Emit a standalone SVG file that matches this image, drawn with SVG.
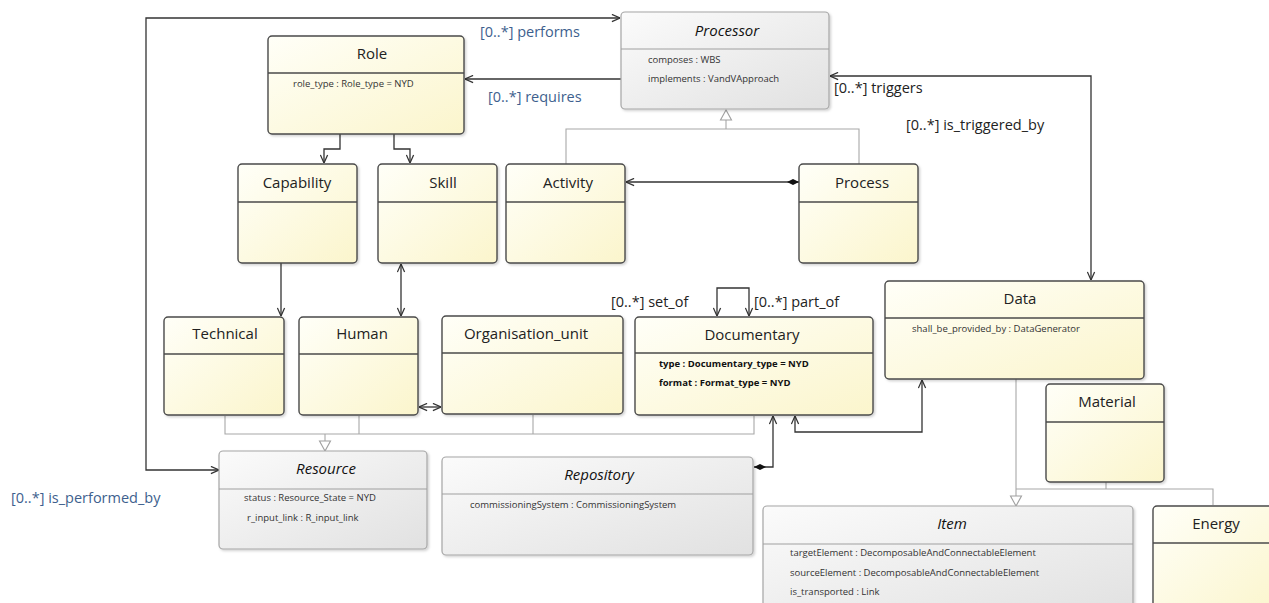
<svg xmlns="http://www.w3.org/2000/svg" width="1269" height="603" viewBox="0 0 1269 603">
<style>
  .yb { fill: url(#yg); stroke: #4a4a4a; stroke-width: 1.4; filter: url(#sh); }
  .gb { fill: url(#gg); stroke: #a6a6a6; stroke-width: 1.2; filter: url(#sh); }
  .ys { stroke: #4a4a4a; stroke-width: 1.3; }
  .gs { stroke: #a0a0a0; stroke-width: 1.1; }
  .t { font-family: "Open Sans", "Noto Sans", sans-serif; font-size: 15px; fill: #222; text-anchor: middle; }
  .ti { font-family: "Open Sans", "Noto Sans", sans-serif; font-size: 15px; fill: #111; text-anchor: middle; font-style: italic; }
  .a { font-family: "Open Sans", "Noto Sans", sans-serif; font-size: 9.5px; fill: #333; }
  .ab { font-family: "Open Sans", "Noto Sans", sans-serif; font-size: 9.5px; fill: #111; font-weight: bold; }
  .lb { font-family: "Open Sans", "Noto Sans", sans-serif; font-size: 14.5px; fill: #3e5f8e; }
  .lk { font-family: "Open Sans", "Noto Sans", sans-serif; font-size: 14.5px; fill: #222; }
  .as { fill: none; stroke: #333; stroke-width: 1.3; }
  .gl { fill: none; stroke: #a8a8a8; stroke-width: 1.1; }
  .tri { fill: #fff; stroke: #a0a0a0; stroke-width: 1.1; }
</style>
<defs>
  <linearGradient id="yg" x1="0" y1="0" x2="1" y2="1">
    <stop offset="0" stop-color="#fffff8"/>
    <stop offset="1" stop-color="#fbf5cc"/>
  </linearGradient>
  <linearGradient id="gg" x1="0" y1="0" x2="1" y2="1">
    <stop offset="0" stop-color="#fbfbfb"/>
    <stop offset="1" stop-color="#e1e1e1"/>
  </linearGradient>
  <filter id="sh" x="-5%" y="-5%" width="115%" height="115%">
    <feDropShadow dx="1.5" dy="1.5" stdDeviation="1" flood-color="#000" flood-opacity="0.18"/>
  </filter>
  <marker id="arr" viewBox="0 0 10 10" refX="10" refY="5" markerWidth="9" markerHeight="9" markerUnits="userSpaceOnUse" orient="auto-start-reverse">
    <path d="M1,1 L10,5 L1,9" fill="none" stroke="#333" stroke-width="1.4"/>
  </marker>
  <marker id="dia" viewBox="0 0 12 6" refX="12" refY="3" markerWidth="12" markerHeight="6" markerUnits="userSpaceOnUse" orient="auto-start-reverse">
    <path d="M0,3 L6,0 L12,3 L6,6 Z" fill="#111"/>
  </marker>
</defs>

<g id="connectors">
  <!-- associations -->
  <path class="as" d="M219,470 L146,470 L146,18 L620,18" marker-start="url(#arr)" marker-end="url(#arr)"/>
  <path class="as" d="M621,79 L465,79" marker-end="url(#arr)"/>
  <path class="as" d="M830,76 L1091,76 L1091,280" marker-start="url(#arr)" marker-end="url(#arr)"/>
  <path class="as" d="M340,134 L340,149 L324,149 L324,163" marker-end="url(#arr)"/>
  <path class="as" d="M394,134 L394,149 L410,149 L410,163" marker-end="url(#arr)"/>
  <path class="as" d="M281,263 L281,316" marker-end="url(#arr)"/>
  <path class="as" d="M401,316 L401,264" marker-start="url(#arr)" marker-end="url(#arr)"/>
  <path class="as" d="M419,407 L441,407" marker-start="url(#arr)" marker-end="url(#arr)"/>
  <path class="as" d="M799,182 L626,182" marker-start="url(#dia)" marker-end="url(#arr)"/>
  <path class="as" d="M717,316 L717,288 L749,288 L749,316" marker-start="url(#arr)" marker-end="url(#arr)"/>
  <path class="as" d="M754,467 L773,467 L773,416" marker-start="url(#dia)" marker-end="url(#arr)"/>
  <path class="as" d="M795,416 L795,432 L922,432 L922,380" marker-start="url(#arr)" marker-end="url(#arr)"/>
  <!-- generalizations -->
  <path class="gl" d="M566,164 L566,129 L859,129 L859,164 M726,129 L726,120"/>
  <polygon class="tri" points="726,110 720.5,120 731.5,120"/>
  <path class="gl" d="M225,416 L225,434 L754,434 L754,416 M359,416 L359,434 M533,415 L533,434 M325,434 L325,441"/>
  <polygon class="tri" points="325,451 319.5,441 330.5,441"/>
  <path class="gl" d="M1016,379 L1016,496 M1106,482 L1106,489 M1016,489 L1213,489 L1213,505"/>
  <polygon class="tri" points="1016,506 1010.5,496 1021.5,496"/>
  <!-- labels -->
  <text class="lb" x="480" y="37">[0..*] performs</text>
  <text class="lb" x="488" y="102">[0..*] requires</text>
  <text class="lb" x="11" y="503">[0..*] is_performed_by</text>
  <text class="lk" x="834" y="93">[0..*] triggers</text>
  <text class="lk" x="906" y="130">[0..*] is_triggered_by</text>
  <text class="lk" x="611" y="307">[0..*] set_of</text>
  <text class="lk" x="754" y="307">[0..*] part_of</text>
</g>

<g id="Role">
  <rect class="yb" x="268" y="36" width="196" height="98" rx="4"/>
  <line class="ys" x1="268" y1="73" x2="464" y2="73"/>
  <text class="t" x="372" y="59">Role</text>
  <text class="a" x="293" y="87">role_type : Role_type = NYD</text>
</g>
<g id="Processor">
  <rect class="gb" x="621" y="12" width="208" height="97" rx="4"/>
  <line class="gs" x1="621" y1="49" x2="829" y2="49"/>
  <text class="ti" x="727" y="36">Processor</text>
  <text class="a" x="648" y="63">composes : WBS</text>
  <text class="a" x="648" y="82">implements : VandVApproach</text>
</g>
<g id="Capability">
  <rect class="yb" x="238" y="164" width="119" height="99" rx="4"/>
  <line class="ys" x1="238" y1="202" x2="357" y2="202"/>
  <text class="t" x="297" y="188">Capability</text>
</g>
<g id="Skill">
  <rect class="yb" x="378" y="164" width="119" height="99" rx="4"/>
  <line class="ys" x1="378" y1="202" x2="497" y2="202"/>
  <text class="t" x="443" y="188">Skill</text>
</g>
<g id="Activity">
  <rect class="yb" x="506" y="164" width="119" height="99" rx="4"/>
  <line class="ys" x1="506" y1="202" x2="625" y2="202"/>
  <text class="t" x="568" y="188">Activity</text>
</g>
<g id="Process">
  <rect class="yb" x="799" y="164" width="119" height="99" rx="4"/>
  <line class="ys" x1="799" y1="202" x2="918" y2="202"/>
  <text class="t" x="862" y="188">Process</text>
</g>
<g id="Technical">
  <rect class="yb" x="164" y="317" width="120" height="98" rx="4"/>
  <line class="ys" x1="164" y1="354" x2="284" y2="354"/>
  <text class="t" x="225" y="339">Technical</text>
</g>
<g id="Human">
  <rect class="yb" x="299" y="317" width="119" height="98" rx="4"/>
  <line class="ys" x1="299" y1="354" x2="418" y2="354"/>
  <text class="t" x="362" y="339">Human</text>
</g>
<g id="Organisation_unit">
  <rect class="yb" x="442" y="316" width="181" height="98" rx="4"/>
  <line class="ys" x1="442" y1="353" x2="623" y2="353"/>
  <text class="t" x="526" y="339">Organisation_unit</text>
</g>
<g id="Documentary">
  <rect class="yb" x="635" y="317" width="238" height="98" rx="4"/>
  <line class="ys" x1="635" y1="353" x2="873" y2="353"/>
  <text class="t" x="752" y="340">Documentary</text>
  <text class="ab" x="659" y="367">type : Documentary_type = NYD</text>
  <text class="ab" x="659" y="386">format : Format_type = NYD</text>
</g>
<g id="Data">
  <rect class="yb" x="885" y="281" width="259" height="98" rx="4"/>
  <line class="ys" x1="885" y1="318" x2="1144" y2="318"/>
  <text class="t" x="1020" y="304">Data</text>
  <text class="a" x="912" y="332">shall_be_provided_by : DataGenerator</text>
</g>
<g id="Material">
  <rect class="yb" x="1046" y="384" width="118" height="98" rx="4"/>
  <line class="ys" x1="1046" y1="422" x2="1164" y2="422"/>
  <text class="t" x="1107" y="407">Material</text>
</g>
<g id="Resource">
  <rect class="gb" x="219" y="451" width="208" height="98" rx="4"/>
  <line class="gs" x1="219" y1="489" x2="427" y2="489"/>
  <text class="ti" x="326" y="474">Resource</text>
  <text class="a" x="244" y="501">status : Resource_State = NYD</text>
  <text class="a" x="247" y="521">r_input_link : R_input_link</text>
</g>
<g id="Repository">
  <rect class="gb" x="442" y="457" width="311" height="98" rx="4"/>
  <line class="gs" x1="442" y1="494" x2="753" y2="494"/>
  <text class="ti" x="599" y="480">Repository</text>
  <text class="a" x="470" y="508">commissioningSystem : CommissioningSystem</text>
</g>
<g id="Item">
  <rect class="gb" x="763" y="506" width="370" height="110" rx="4"/>
  <line class="gs" x1="763" y1="544" x2="1133" y2="544"/>
  <text class="ti" x="952" y="529">Item</text>
  <text class="a" x="790" y="556">targetElement : DecomposableAndConnectableElement</text>
  <text class="a" x="790" y="576">sourceElement : DecomposableAndConnectableElement</text>
  <text class="a" x="790" y="595">is_transported : Link</text>
</g>
<g id="Energy">
  <rect class="yb" x="1153" y="506" width="125" height="110" rx="4"/>
  <line class="ys" x1="1153" y1="543" x2="1278" y2="543"/>
  <text class="t" x="1216" y="529">Energy</text>
</g>
</svg>
